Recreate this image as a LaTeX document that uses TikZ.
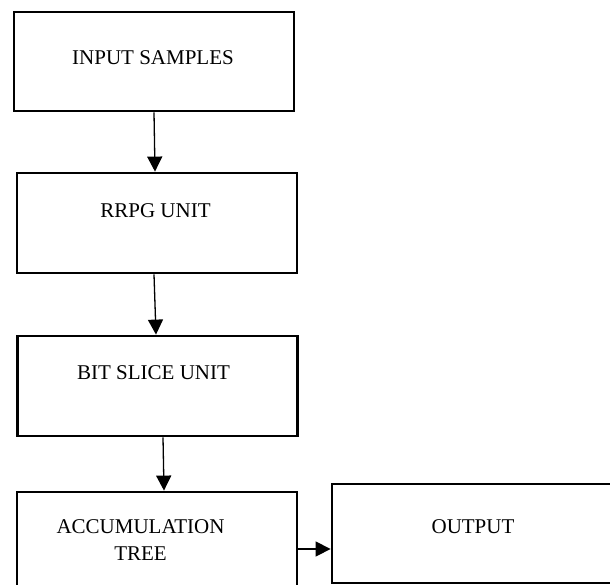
\documentclass[tikz,border=0pt]{standalone}
\usepackage{fontspec}
\setmainfont{Liberation Serif}
\usetikzlibrary{arrows.meta}
\begin{document}
\begin{tikzpicture}[x=1pt, y=-1pt,
  block/.style={draw, line width=2.8pt, minimum width=280pt, inner sep=0pt},
  lbl/.style={font=\fontsize{21}{27}\selectfont, align=center, inner sep=0pt},
  flow/.style={line width=1.3pt, -{Triangle[length=15pt, width=15pt]}}]
  \useasboundingbox (0,0) rectangle (610,585);
  \clip (0,0) rectangle (610,585);
  % processing chain
  \node[block, minimum height=99pt]  (input) at (154,61.5)  {};
  \node[block, minimum height=100pt] (rrpg)  at (157,223)   {};
  \node[block, minimum height=100pt] (bits)  at (157.5,386) {};
  \node[block, minimum height=100pt] (acc)   at (157,542)   {};
  \node[block, minimum height=99pt]  (out)   at (472,533.5) {};
  % captions
  \node[lbl] (tin)  at (153,58)    {INPUT SAMPLES};
  \node[lbl] (trr)  at (155.5,211) {RRPG UNIT};
  \node[lbl] (tbs)  at (153.5,373) {BIT SLICE UNIT};
  \node[lbl] (tacc) at (140.5,540.5) {ACCUMULATION\\TREE};
  \node[lbl] (tout) at (473,527)   {OUTPUT};
  % connectors
  \draw[flow] (input.south) -- ([xshift=-2pt]rrpg.north);
  \draw[flow] ([xshift=-3pt]rrpg.south) -- ([xshift=-1.5pt]bits.north);
  \draw[flow] ([xshift=5.5pt]bits.south) -- ([xshift=7pt]acc.north);
  \coordinate (accout) at ([yshift=-7pt]acc.east);
  \draw[flow] (accout) -- (accout -| out.west);
\end{tikzpicture}
\end{document}
